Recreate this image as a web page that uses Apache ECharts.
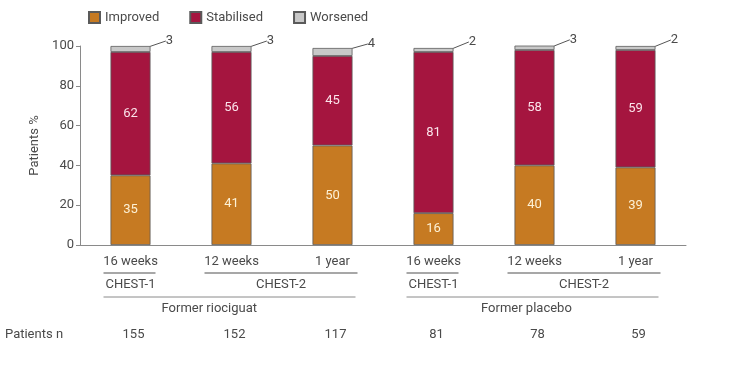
<!DOCTYPE html>
<html><head><meta charset="utf-8">
<script src="https://cdn.jsdelivr.net/npm/echarts@6/dist/echarts.min.js"></script>
<style>html,body{margin:0;padding:0;background:#fff}#c{width:742px;height:392px}</style>
</head><body><div id="c"></div>
<script>
var categories = ['16 weeks', '12 weeks', '1 year', '16 weeks', '12 weeks', '1 year'];
var improved   = [35, 41, 50, 16, 40, 39];
var stabilised = [62, 56, 45, 81, 58, 59];
var worsened   = [3, 3, 4, 2, 3, 2];
var patientsN  = [155, 152, 117, 81, 78, 59];
var yTicks = [0, 20, 40, 60, 80, 100];
// study brackets: [label, fromIndex, toIndex]
var studies = [['CHEST-1', 0, 0], ['CHEST-2', 1, 2], ['CHEST-1', 3, 3], ['CHEST-2', 4, 5]];
// groups: [label, fromIndex, toIndex, labelPosition(index)]
var groups = [['Former riociguat', 0, 2, 0.78], ['Former placebo', 3, 5, 3.92]];

var FONT = 'Roboto';
var TXT = '#4a4a4a';
var FS = 13;
var chart = echarts.init(document.getElementById('c'), null, {renderer: 'canvas'});

function barSeries(name, data, color, labelColor) {
  return {
    name: name, type: 'bar', stack: 'total', data: data, barWidth: 40,
    itemStyle: {color: color, borderColor: '#5a5a5a', borderWidth: 0.8},
    label: {show: true, position: 'inside', color: labelColor, fontFamily: FONT, fontSize: FS},
    emphasis: {disabled: true}
  };
}

var option = {
  animation: false,
  textStyle: {fontFamily: FONT},
  legend: {
    left: 83, top: 6, itemWidth: 11, itemHeight: 11, itemGap: 30,
    icon: 'rect',
    textStyle: {color: TXT, fontSize: FS, fontFamily: FONT},
    data: ['Improved', 'Stabilised', 'Worsened']
  },
  grid: {left: 80, right: 56, top: 46, bottom: 147, containLabel: false},
  xAxis: {
    type: 'category', data: categories,
    axisLine: {lineStyle: {color: '#8a8a8a', width: 1}},
    axisTick: {show: false},
    axisLabel: {color: TXT, fontSize: FS, margin: 10, fontFamily: FONT}
  },
  yAxis: {
    type: 'value', min: yTicks[0], max: yTicks[yTicks.length - 1], interval: 20,
    name: 'Patients %', nameLocation: 'middle', nameGap: 36,
    nameTextStyle: {color: TXT, fontSize: FS, fontFamily: FONT},
    axisLine: {show: true, lineStyle: {color: '#8a8a8a'}},
    axisTick: {show: true, length: 4, lineStyle: {color: '#8a8a8a'}},
    axisLabel: {color: TXT, fontSize: FS, margin: 6, fontFamily: FONT},
    splitLine: {show: false}
  },
  series: [
    barSeries('Improved', improved, '#c67a22', '#fdf1d6'),
    barSeries('Stabilised', stabilised, '#a5153f', '#fbe3ea'),
    {
      name: 'Worsened', type: 'bar', stack: 'total', data: worsened, barWidth: 40,
      itemStyle: {color: '#c8c8c8', borderColor: '#5a5a5a', borderWidth: 0.8},
      label: {show: true, position: 'inside', color: TXT, fontSize: FS, fontFamily: FONT},
      labelLayout: {dx: 39, dy: -8},
      labelLine: {show: true, lineStyle: {color: '#555', width: 1}},
      emphasis: {disabled: true}
    }
  ]
};
chart.setOption(option);

function px(i) { return chart.convertToPixel({xAxisIndex: 0}, i); }
function pxf(f) { var a = Math.floor(f), b = Math.min(a + 1, categories.length - 1); var pa = px(a), pb = px(b); return pa + (pb - pa) * (f - a); }

var g = [];
var yStudyLine = 273, yStudyText = 285, yGroupLine = 297, yGroupText = 309, yN = 335;
studies.forEach(function (s) {
  var x1 = px(s[1]) - 27, x2 = px(s[2]) + 25;
  g.push({type: 'line', shape: {x1: x1, y1: yStudyLine, x2: x2, y2: yStudyLine}, style: {stroke: '#8a8a8a', lineWidth: 1.5}});
  var cx = s[1] === s[2] ? px(s[1]) : (x1 + x2) / 2;
  g.push({type: 'text', x: cx, y: yStudyText, style: {text: s[0], fill: TXT, font: FS + 'px ' + FONT, textAlign: 'center', textVerticalAlign: 'middle'}});
});
groups.forEach(function (gr) {
  var x1 = px(gr[1]) - 27, x2 = px(gr[2]) + 23;
  g.push({type: 'line', shape: {x1: x1, y1: yGroupLine, x2: x2, y2: yGroupLine}, style: {stroke: '#8a8a8a', lineWidth: 1}});
  g.push({type: 'text', x: pxf(gr[3]), y: yGroupText, style: {text: gr[0], fill: TXT, font: FS + 'px ' + FONT, textAlign: 'center', textVerticalAlign: 'middle'}});
});
g.push({type: 'text', x: 5, y: yN, style: {text: 'Patients n', fill: TXT, font: FS + 'px ' + FONT, textAlign: 'left', textVerticalAlign: 'middle'}});
patientsN.forEach(function (n, i) {
  g.push({type: 'text', x: px(i) + 3, y: yN, style: {text: String(n), fill: TXT, font: FS + 'px ' + FONT, textAlign: 'center', textVerticalAlign: 'middle'}});
});
chart.setOption({graphic: g});
</script></body></html>
